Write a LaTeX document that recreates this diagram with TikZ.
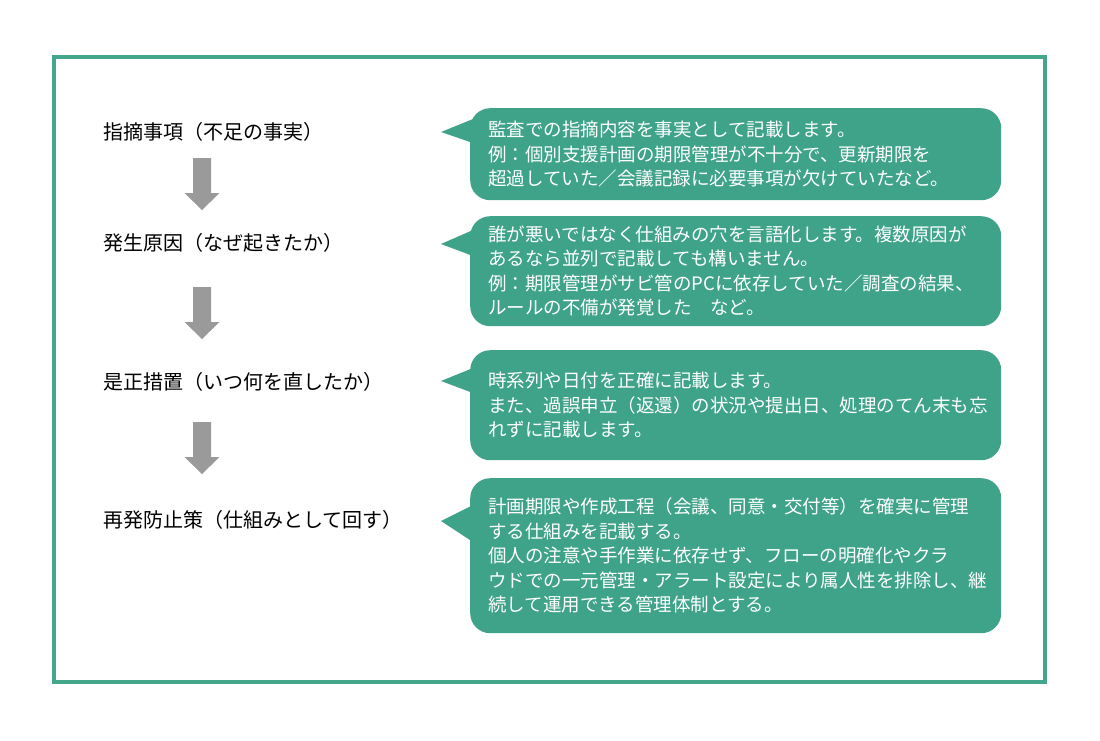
\documentclass[tikz,border=0pt]{standalone}
\usepackage{fontspec}
\setmainfont{Noto Sans CJK JP}
\definecolor{bubteal}{RGB}{62,163,137}
\definecolor{frameteal}{RGB}{68,166,138}
\definecolor{agray}{RGB}{154,154,154}
\tikzset{
  lbl/.style={anchor=west, inner sep=0pt, text=black, font=\fontsize{20}{24}\selectfont},
  bubble/.style={anchor=north west, fill=bubteal, rounded corners=20pt, text=white,
    minimum width=531pt, text width=495pt, inner xsep=18pt, inner ysep=0pt, align=left,
    font=\fontsize{18.5}{24.5}\selectfont},
  wedge/.style={fill=bubteal},
  downarrow/.pic={\fill[agray] (-9,0) -- (9,0) -- (9,35) -- (17.5,35) -- (0,52) -- (-17.5,35) -- (-9,35) -- cycle;}
}
\begin{document}
\begin{tikzpicture}[x=1pt,y=-1pt]
\useasboundingbox (0,0) rectangle (1100,740);
\fill[white] (0,0) rectangle (1100,740);
\draw[frameteal, line width=4pt] (54,57) rectangle (1045,682);

% left labels
\node[lbl] (l1) at (103,132) {指摘事項（不足の事実）};
\node[lbl] (l2) at (103,243) {発生原因（なぜ起きたか）};
\node[lbl] (l3) at (103,382) {是正措置（いつ何を直したか）};
\node[lbl] (l4) at (103,520) {再発防止策（仕組みとして回す）};

% arrows between labels
\coordinate (a1) at (202,158);
\coordinate (a2) at (202,287);
\coordinate (a3) at (202,422);
\pic at (a1) {downarrow};
\pic at (a2) {downarrow};
\pic at (a3) {downarrow};

% bubbles
\node[bubble, minimum height=92pt] (b1) at (470,108) {監査での指摘内容を事実として記載します。\\例：個別支援計画の期限管理が不十分で、更新期限を\\超過していた／会議記録に必要事項が欠けていたなど。};
\fill[wedge] (473,119) -- (441,132) -- (473,143) -- cycle;

\node[bubble, minimum height=110pt] (b2) at (470,216) {誰が悪いではなく仕組みの穴を言語化します。複数原因が\\あるなら並列で記載しても構いません。\\例：期限管理がサビ管のPCに依存していた／調査の結果、\\ルールの不備が発覚した　など。};
\fill[wedge] (473,230) -- (441,244) -- (473,256) -- cycle;

\node[bubble, minimum height=110pt] (b3) at (470,350) {時系列や日付を正確に記載します。\\また、過誤申立（返還）の状況や提出日、処理のてん末も忘\\れずに記載します。};
\fill[wedge] (473,368) -- (441,381) -- (473,393) -- cycle;

\node[bubble, minimum height=155pt] (b4) at (470,478) {計画期限や作成工程（会議、同意・交付等）を確実に管理\\する仕組みを記載する。\\個人の注意や手作業に依存せず、フローの明確化やクラ\\ウドでの一元管理・アラート設定により属人性を排除し、継\\続して運用できる管理体制とする。};
\fill[wedge] (473,505) -- (441,521) -- (473,542) -- cycle;
\end{tikzpicture}
\end{document}
